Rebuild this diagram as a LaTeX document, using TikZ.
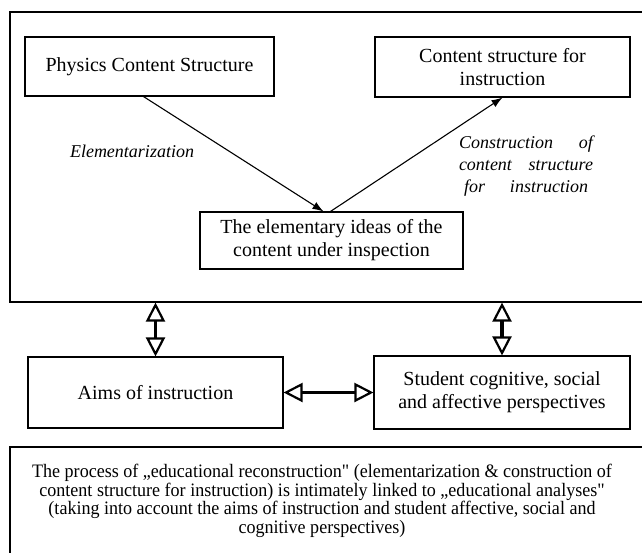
\documentclass[tikz,border=0pt]{standalone}
\usepackage{fontspec}
\setmainfont{Liberation Serif}
\newfontfamily\notefont[FakeStretch=0.95]{Liberation Serif}
\usetikzlibrary{arrows.meta}
\usetikzlibrary{positioning}

\begin{document}
\begin{tikzpicture}[x=1pt,y=-1pt,
  box/.style={draw,line width=1.1pt,inner sep=0pt,align=center,font=\fontsize{20}{23}\selectfont},
  lbl/.style={font=\fontsize{18}{22}\selectfont\itshape,align=center,inner sep=0pt},
  thin/.style={line width=1.1pt,-{Latex[length=11pt,width=8pt]}},
  both/.style={line width=3.5pt,{Triangle[open,length=19pt,width=19pt,line width=2.2pt]}-{Triangle[open,length=19pt,width=19pt,line width=2.2pt]}}]
  \useasboundingbox (0,0) rectangle (642,552);
  \clip (0,0) rectangle (642,552);
  \node[box,minimum width=635pt,minimum height=290pt] (frame) at (327.5,157) {};
  \node[box,minimum width=249pt,minimum height=59pt] (phys) at (149.5,66.5) {Physics Content Structure};
  \node[box,minimum width=255pt,minimum height=60pt] (cont) at (502.5,67) {Content structure for\\instruction};
  \node[box,minimum width=263pt,minimum height=57pt] (elem) at (331.5,240.5) {The elementary ideas of the\\content under inspection};
  \node[lbl] (elab) at (132,151) {Elementarization};
  \node[lbl] (clab) at (526,166) {\makebox[134pt][s]{Construction of}\\\makebox[134pt][s]{content structure}\\\makebox[124pt][s]{for instruction}};

  \node[box,minimum width=255pt,minimum height=71pt] (aims) at (155.5,392.5) {Aims of instruction};
  \node[box,minimum width=256pt,minimum height=73pt] (stud) at (502,392.5) {Student cognitive, social\\and affective perspectives};

  \node[box,minimum width=635pt,minimum height=113pt] (notebox) at (327.5,503.5) {};
  \node[font=\notefont\fontsize{19}{18.5}\selectfont,align=center,inner sep=0pt] (note) at (322,501) {The process of „educational reconstruction" (elementarization \& construction of\\content structure for instruction) is intimately linked to „educational analyses"\\(taking into account the aims of instruction and student affective, social and\\cognitive perspectives)};

  \draw[thin] ([xshift=-6pt]phys.south) -- ([xshift=-8pt]elem.north);
  \draw[thin] ([xshift=-1pt]elem.north) -- (cont.south);
  \draw[both] (aims.north |- frame.south) -- (aims.north);
  \draw[both] (stud.north |- frame.south) -- (stud.north);
  \draw[both] (aims.east) -- (stud.west);
\end{tikzpicture}
\end{document}
